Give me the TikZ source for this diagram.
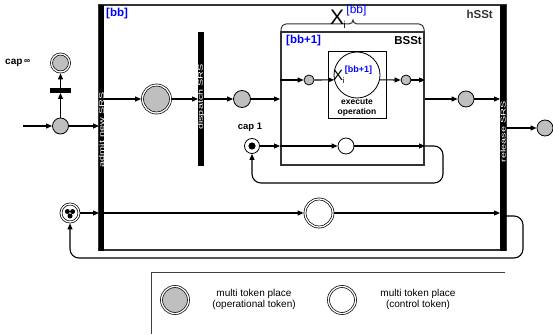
\documentclass[tikz,border=0pt]{standalone}
\usepackage{fontspec}
\setmainfont{Liberation Sans}
\usetikzlibrary{arrows.meta,calc}
\begin{document}
\begin{tikzpicture}[x=1pt,y=-1pt,
  conn/.style={line width=1.1pt, -{Triangle[length=6pt,width=5pt]}},
  wire/.style={line width=1.1pt},
  gplace/.style={circle, draw, line width=0.8pt, fill=gray!50, inner sep=0pt},
  wplace/.style={circle, draw, line width=0.8pt, fill=white, inner sep=0pt},
  dgplace/.style={circle, draw, line width=0.7pt, double, double distance=1.3pt, fill=gray!50, inner sep=0pt, outer sep=1.4pt},
  dwplace/.style={circle, draw, line width=0.7pt, double, double distance=1.3pt, fill=white, inner sep=0pt, outer sep=1.4pt},
  barnode/.style={fill=black, inner sep=0pt, outer sep=0pt},
  bartext/.style={text=white, rotate=90, font=\fontsize{7}{7}\selectfont, inner sep=0pt},
  lbl/.style={font=\bfseries\fontsize{11.5}{12}\selectfont, inner sep=0pt},
  caplbl/.style={font=\bfseries\fontsize{9.5}{10}\selectfont, inner sep=0pt},
  legtext/.style={align=center, font=\fontsize{10}{11}\selectfont, inner sep=0pt},
]
\useasboundingbox (0,0) rectangle (553,334);

% outer hSSt box
\node[draw=black!80, line width=1.3pt, minimum width=407pt, minimum height=245pt, inner sep=0pt] (hsst) at (302.5,127.5) {};

% bars
\node[barnode, minimum width=5pt, minimum height=246pt] (admit) at (101.5,128) {};
\node[barnode, minimum width=6pt, minimum height=246pt] (release) at (503,128) {};
\node[barnode, minimum width=6pt, minimum height=134pt] (dispatch) at (201,99) {};
\node[bartext] (admitT) at (101.5,130) {\scalebox{1.55}[1]{admit new SRS}};
\node[bartext] (dispatchT) at (201,97) {\scalebox{1.55}[1]{dispatch SRS}};
\node[bartext] (releaseT) at (503,132) {\scalebox{1.55}[1]{release SRS}};

% BSSt box
\node[draw=black!80, line width=2pt, minimum width=143pt, minimum height=133pt, inner sep=0pt] (bsst) at (352.5,98.5) {};

% brace
\draw[black!80, line width=1pt, rounded corners=5pt] (281,32) -- (281,24) -- (349,24);
\draw[black!80, line width=1pt] (349,24) .. controls (352,24) and (352.5,22) .. (353,20) .. controls (353.5,22) and (354,24) .. (357,24);
\draw[black!80, line width=1pt, rounded corners=5pt] (357,24) -- (424,24) -- (424,32);

% labels
\node[lbl, text=blue, anchor=west] (bbL) at (106,14) {[bb]};
\node[lbl, text=black!80, anchor=east] (hsstL) at (493,14) {hSSt};
\node[lbl, text=blue, anchor=west] (bb1L) at (286,41) {[bb+1]};
\node[lbl, anchor=east] (bsstL) at (422,41) {BSSt};
\node[inner sep=0pt, anchor=base west, font=\fontsize{21}{21}\selectfont] (XiTop) at (330,25)
  {X\kern-0.5pt\raisebox{-4pt}{\fontsize{10}{10}\selectfont i}\kern0.5pt\raisebox{11pt}{\fontsize{12}{12}\selectfont\color{blue}[bb]}};

% execute operation
\node[draw, line width=0.8pt, minimum width=58pt, minimum height=67pt, inner sep=0pt] (execbox) at (357,84.5) {};
\node[circle, draw, line width=0.8pt, fill=white, minimum size=46pt, inner sep=0pt] (exec) at (357,75) {};
\node[inner sep=0pt, anchor=base west, font=\fontsize{15}{15}\selectfont] (Xin) at (333,81)
  {X\kern-0.3pt\raisebox{-3pt}{\fontsize{8}{8}\selectfont i}\kern0.3pt\raisebox{8pt}{\color{blue}\bfseries\fontsize{9}{10}\selectfont [bb+1]}};
\node[inner sep=0pt, align=center, font=\bfseries\fontsize{8.5}{10}\selectfont] (execT) at (357,108) {execute\\operation};

% places
\node[gplace, minimum size=16pt] (pI) at (60.5,126) {};
\node[barnode, minimum width=21pt, minimum height=5pt] (tI) at (60.5,90.5) {};
\node[dgplace, minimum size=18pt] (pJ) at (60.5,63) {};
\node[inner sep=0pt, anchor=west, font=\bfseries\fontsize{10}{10}\selectfont] (capinf) at (5,63) {cap\,\raisebox{1.5pt}{\fontsize{8.5}{8.5}\selectfont ∞}};
\coordinate (inp) at (23,126);

\node[dgplace, minimum size=28pt] (pA) at (156.5,99) {};
\node[gplace, minimum size=17pt] (pB) at (242,99) {};
\node[gplace, minimum size=10pt] (p3) at (309,80) {};
\node[gplace, minimum size=10pt] (p4) at (406,80) {};
\node[gplace, minimum size=16pt] (pC) at (466,99) {};
\node[gplace, minimum size=16pt] (pD) at (545,128) {};

\node[wplace, minimum size=15pt] (pE) at (252,146) {};
\fill (pE) circle (3.6pt);
\node[caplbl] (cap1) at (250,127) {cap 1};
\node[wplace, minimum size=16pt] (pF) at (346,146) {};

\node[dwplace, minimum size=18pt] (pG) at (70,213) {};
\foreach \a in {270,30,150} \fill ($(pG)+(\a:3pt)$) circle (2.5pt);
\node[dwplace, minimum size=28pt] (pH) at (319,213) {};

% connectors
\draw[conn] (inp) -- (pI.west);
\draw[conn] (pI.east) -- (pI -| admit.west);
\draw[conn] (pI.north) -- (tI.south);
\draw[conn] (tI.north) -- (pJ.south);

\draw[conn] (admit.east |- pA) -- (pA.west);
\draw[conn] (pA.east) -- (pA -| dispatch.west);
\draw[conn] (dispatch.east |- pB) -- (pB.west);
\draw[conn] (pB.east) -- (pB -| bsst.west);
\draw[conn] (bsst.west |- p3) -- (p3.west);
\draw[conn] (p3.east) -- (exec.192);
\draw[conn] (exec.-12) -- (p4.west);
\draw[conn] (p4.east) -- (p4 -| bsst.east);
\draw[conn] (bsst.east |- pC) -- (pC.west);
\draw[conn] (pC.east) -- (pC -| release.west);
\draw[conn] (release.east |- pD) -- (pD.west);

\draw[conn] (pE.east) -- (pE -| bsst.west);
\draw[conn] (bsst.west |- pF) -- (pF.west);
\draw[conn] (pF.east) -- (pF -| bsst.east);
\coordinate (l1a) at (443,146);
\coordinate (l1b) at (443,183);
\coordinate (l1c) at (252,183);
\draw[conn, rounded corners=9pt] (pF -| bsst.east) -- (l1a) -- (l1b) -- (l1c) -- (pE.south);

\draw[conn] (pG.east) -- (pG -| admit.west);
\draw[conn] (admit.east |- pH) -- (pH.west);
\draw[conn] (pH.east) -- (pH -| release.west);
\coordinate (l2s) at (506,216);
\coordinate (l2a) at (523,216);
\coordinate (l2b) at (523,258);
\coordinate (l2c) at (70,258);
\draw[conn, rounded corners=9pt] (l2s) -- (l2a) -- (l2b) -- (l2c) -- (pG.south);

% legend
\draw[black!75, line width=0.8pt] (505,272) -- (151,272) -- (151,334);
\node[dgplace, minimum size=27pt] (legG) at (175,300) {};
\node[legtext] (legGT) at (254,299) {multi token place\\(operational token)};
\node[dwplace, minimum size=27pt] (legW) at (342,300) {};
\node[legtext] (legWT) at (418,299) {multi token place\\(control token)};
\end{tikzpicture}
\end{document}
